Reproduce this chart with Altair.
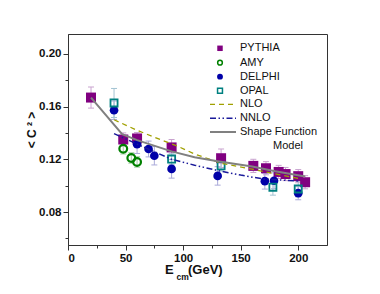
import altair as alt
import pandas as pd

# ---- data ----
pythia_x = [20, 48, 60, 90, 133, 161, 172, 183, 189, 200, 206]
pythia_y = [0.1668, 0.1350, 0.1358, 0.1290, 0.1208, 0.1150, 0.1132, 0.1104, 0.1088, 0.1072, 0.1026]
pythia_e = [0.0080, 0.0050, 0.0045, 0.0060, 0.0070, 0.0050, 0.0050, 0.0050, 0.0050, 0.0050, 0.0050]

amy_x = [48, 55, 60]
amy_y = [0.1280, 0.1210, 0.1180]
amy_e = [0.0040, 0.0040, 0.0040]

delphi_x = [40, 60, 70, 75, 90, 130, 171, 179, 200]
delphi_y = [0.1572, 0.1314, 0.1278, 0.1227, 0.1127, 0.1074, 0.1034, 0.1037, 0.0943]
delphi_e = [0.0070, 0.0070, 0.0060, 0.0070, 0.0070, 0.0070, 0.0060, 0.0060, 0.0050]

opal_x = [40, 90, 133, 178, 200]
opal_y = [0.1627, 0.1202, 0.1151, 0.0988, 0.0975]
opal_e = [0.0110, 0.0040, 0.0040, 0.0060, 0.0060]

nlo_x = [40, 60, 80, 95, 110, 133, 160, 180, 200]
nlo_y = [0.1500, 0.1420, 0.1350, 0.1300, 0.1240, 0.1170, 0.1125, 0.1090, 0.1055]

nnlo_x = [40, 60, 90, 110, 130, 150, 170, 200]
nnlo_y = [0.1395, 0.1315, 0.1200, 0.1155, 0.1115, 0.1080, 0.1050, 0.1035]

sf_x = [20, 47, 60, 90, 110, 130, 160, 180, 206]
sf_y = [0.1668, 0.1390, 0.1345, 0.1260, 0.1215, 0.1185, 0.1145, 0.1110, 0.1070]

legend_labels = ["PYTHIA", "AMY", "DELPHI", "OPAL", "NLO", "NNLO", "Shape Function", "Model"]

x_ticks = [0, 25, 50, 75, 100, 125, 150, 175, 200]
y_ticks = [0.06, 0.08, 0.10, 0.12, 0.14, 0.16, 0.18, 0.20]

# ---- colours ----
C_PY = "#800080"
C_AMY = "#008000"
C_DEL = "#0000a8"
C_OPAL = "#008080"
C_NLO = "#a0a000"
C_NNLO = "#1a1a9a"
C_SF = "#808080"
FONT = "Liberation Sans"


def pts(xs, ys, es=None):
    d = pd.DataFrame({"x": xs, "y": ys})
    if es is not None:
        d["lo"] = [a - b for a, b in zip(ys, es)]
        d["hi"] = [a + b for a, b in zip(ys, es)]
    return d


x_axis = alt.Axis(
    values=x_ticks, title=None, grid=False,
    labelExpr="datum.value % 50 === 0 ? datum.label : ''",
    tickSize={"condition": {"test": "datum.value % 50 === 0", "value": 5}, "value": 3},
    labelFont=FONT, labelFontWeight="bold", labelFontSize=11.5, labelColor="#111",
    domainColor="#333", tickColor="#333", labelPadding=2,
)
y_axis = alt.Axis(
    values=y_ticks, title=None, grid=False,
    labelExpr="round(datum.value*100) % 4 === 0 ? format(datum.value, '.2f') : ''",
    tickSize={"condition": {"test": "round(datum.value*100) % 4 === 0", "value": 5}, "value": 3},
    labelFont=FONT, labelFontWeight="bold", labelFontSize=11.5, labelColor="#111",
    domainColor="#333", tickColor="#333", labelPadding=2,
)
xs = alt.Scale(domain=[0, 225], nice=False, zero=False)
ys = alt.Scale(domain=[0.055, 0.215], nice=False, zero=False)


def X(f="x"):
    return alt.X(f"{f}:Q", scale=xs, axis=x_axis)


def Y(f="y"):
    return alt.Y(f"{f}:Q", scale=ys, axis=y_axis)


def errbars(d, color):
    bar = alt.Chart(d).mark_rule(color=color, strokeWidth=1).encode(x=X(), y=Y("lo"), y2="hi:Q")
    cap_lo = alt.Chart(d).mark_rule(color=color, strokeWidth=1, xOffset=-3, x2Offset=3).encode(
        x=X(), x2="x:Q", y=Y("lo"))
    cap_hi = alt.Chart(d).mark_rule(color=color, strokeWidth=1, xOffset=-3, x2Offset=3).encode(
        x=X(), x2="x:Q", y=Y("hi"))
    return [bar, cap_lo, cap_hi]


d_py = pts(pythia_x, pythia_y, pythia_e)
d_amy = pts(amy_x, amy_y, amy_e)
d_del = pts(delphi_x, delphi_y, delphi_e)
d_opal = pts(opal_x, opal_y, opal_e)

layers = []
layers += errbars(d_py, "#c9a3cf")
layers += errbars(d_del, "#a9a9d9")
layers += errbars(d_opal, "#a3c3d3")
layers += errbars(d_amy, "#a8d0a8")

layers.append(alt.Chart(d_py).mark_point(shape="square", filled=True, size=100, color=C_PY, opacity=1)
              .encode(x=X(), y=Y()))
layers.append(alt.Chart(d_del).mark_point(shape="circle", filled=True, size=75, color=C_DEL, opacity=1)
              .encode(x=X(), y=Y()))
layers.append(alt.Chart(d_amy).mark_point(shape="circle", filled=False, size=60, strokeWidth=2.2,
                                          color=C_AMY, opacity=1).encode(x=X(), y=Y()))
layers.append(alt.Chart(d_opal).mark_point(shape="square", filled=False, size=50, strokeWidth=1.8,
                                           color=C_OPAL, opacity=1).encode(x=X(), y=Y()))

layers.append(alt.Chart(pts(nlo_x, nlo_y)).mark_line(color=C_NLO, strokeWidth=1.3, strokeDash=[5, 4])
              .encode(x=X(), y=Y()))
layers.append(alt.Chart(pts(nnlo_x, nnlo_y)).mark_line(color=C_NNLO, strokeWidth=1.5,
                                                        strokeDash=[6, 2.5, 1.5, 2.5, 1.5, 2.5])
              .encode(x=X(), y=Y()))
layers.append(alt.Chart(pts(sf_x, sf_y)).mark_line(color=C_SF, strokeWidth=2)
              .encode(x=X(), y=Y()))

# ---- legend (drawn by hand) ----
one = alt.Data(values=[{"a": 1}])
sym_x = 152
rows = [14.3, 28.7, 42.7, 56.7, 70.3, 84.3, 98, 112]
sym_defs = [
    dict(shape="square", filled=True, size=30, color=C_PY),
    dict(shape="circle", filled=False, size=22, strokeWidth=1.5, color=C_AMY),
    dict(shape="circle", filled=True, size=34, color=C_DEL),
    dict(shape="square", filled=False, size=24, strokeWidth=1.5, color=C_OPAL),
]
for i, sd in enumerate(sym_defs):
    layers.append(alt.Chart(one).mark_point(opacity=1, **sd)
                  .encode(x=alt.value(sym_x), y=alt.value(rows[i])))
line_defs = [
    dict(color=C_NLO, strokeWidth=1.3, strokeDash=[5, 4]),
    dict(color=C_NNLO, strokeWidth=1.5, strokeDash=[6, 2.5, 1.5, 2.5, 1.5, 2.5]),
    dict(color=C_SF, strokeWidth=2),
]
for j, ld in enumerate(line_defs):
    layers.append(alt.Chart(one).mark_rule(**ld)
                  .encode(x=alt.value(142), x2=alt.value(168), y=alt.value(rows[4 + j])))
for k, lab in enumerate(legend_labels):
    tx = 205 if lab == "Model" else 172
    layers.append(alt.Chart(alt.Data(values=[{"t": lab}])).mark_text(
        align="left", baseline="middle", font=FONT, fontSize=11, color="#111")
        .encode(x=alt.value(tx), y=alt.value(rows[k]), text="t:N"))

# ---- axis titles ----
layers.append(alt.Chart(alt.Data(values=[{"t": "< C ² >"}])).mark_text(
    angle=270, align="center", baseline="middle", font=FONT, fontSize=12, fontWeight="bold", color="#111")
    .encode(x=alt.value(-36), y=alt.value(96), text="t:N"))
layers.append(alt.Chart(alt.Data(values=[{"t": "E"}])).mark_text(
    align="left", baseline="alphabetic", font=FONT, fontSize=13, fontWeight="bold", color="#111")
    .encode(x=alt.value(97), y=alt.value(240), text="t:N"))
layers.append(alt.Chart(alt.Data(values=[{"t": "cm"}])).mark_text(
    align="left", baseline="alphabetic", font=FONT, fontSize=8.5, fontWeight="bold", color="#111")
    .encode(x=alt.value(108.5), y=alt.value(246), text="t:N"))
layers.append(alt.Chart(alt.Data(values=[{"t": "(GeV)"}])).mark_text(
    align="left", baseline="alphabetic", font=FONT, fontSize=13, fontWeight="bold", color="#111")
    .encode(x=alt.value(120), y=alt.value(240), text="t:N"))

chart = alt.layer(*layers).properties(
    width=259, height=211,
    autosize=alt.AutoSizeParams(type="none"),
    padding={"left": 60, "top": 26, "right": 40, "bottom": 36},
    background="white",
).configure_view(stroke="#333", strokeWidth=1)

chart.save("out.html", embed_options={"renderer": "svg", "actions": False})
